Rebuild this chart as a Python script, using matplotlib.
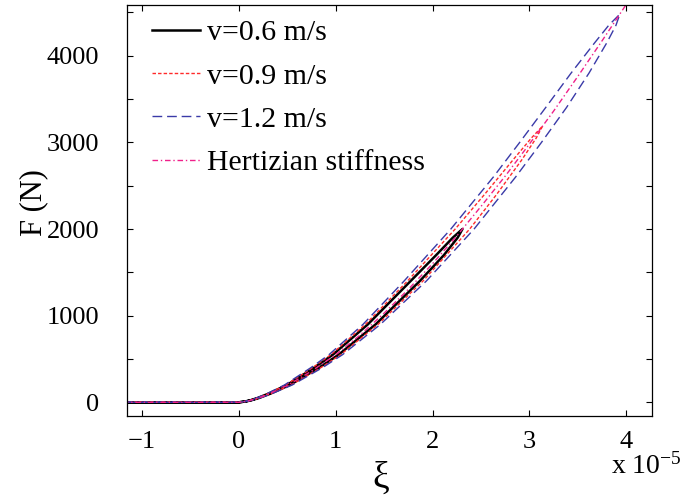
import matplotlib
matplotlib.use("Agg")
import matplotlib.pyplot as plt

# contact force F vs indentation xi (xi in units of 1e-5 m)
# Hertzian stiffness curve
hertz_xi = [-1.2, 0, 0.1, 0.25, 0.5, 0.75, 1.0, 1.25, 1.5, 1.75, 2.0, 2.25, 2.5,
            2.75, 3.0, 3.25, 3.5, 3.75, 4.0, 4.05]
hertz_F = [0, 0, 17, 68, 195, 360, 550, 775, 1030, 1305, 1600, 1920, 2260,
           2610, 2980, 3360, 3760, 4170, 4590, 4680]

# v = 0.6 m/s loop: force levels, loading branch xi, unloading branch xi
v06_F = [0, 10, 25, 50, 100, 200, 400, 550, 900, 1400, 1700, 1900, 2000]
v06_load = [0, .0665, .1225, .1925, .305, .495, .778, .97, 1.332, 1.7735, 2.038, 2.209, 2.309]
v06_unload = [0, .0715, .1315, .2075, .325, .525, .828, 1.03, 1.412, 1.8685, 2.118, 2.259, 2.309]

# v = 0.9 m/s loop
v09_F = [0, 10, 25, 50, 100, 200, 400, 550, 900, 1400, 2000, 2400, 2800, 3050, 3190]
v09_load = [0, .065, .119, .1875, .2975, .4825, .7605, .95, 1.307, 1.741, 2.234,
            2.5375, 2.833, 3.021, 3.138]
v09_unload = [0, .073, .135, .2125, .3325, .5375, .8455, 1.05, 1.437, 1.901, 2.384,
              2.6625, 2.923, 3.071, 3.138]

# v = 1.2 m/s loop
v12_F = [0, 10, 25, 50, 100, 200, 400, 550, 900, 1400, 2000, 2600, 3000, 3400,
         3800, 4150, 4350, 4480]
v12_load = [0, .063, .1156, .1825, .29, .47, .743, .93, 1.282, 1.706, 2.189, 2.628,
            2.9005, 3.1675, 3.4315, 3.6755, 3.8195, 3.935]
v12_unload = [0, .075, .1376, .2175, .34, .55, .863, 1.07, 1.462, 1.936, 2.429, 2.858,
              3.1255, 3.3825, 3.6165, 3.8005, 3.8945, 3.935]

x_ticks = [-1, 0, 1, 2, 3, 4]
y_ticks = [0, 500, 1000, 1500, 2000, 2500, 3000, 3500, 4000, 4500]

plt.rcParams['font.family'] = ['Liberation Serif', 'DejaVu Serif']
plt.rcParams['mathtext.fontset'] = 'stix'


def loop(load, unload, F):
    # approach from negative xi, load up, unload back down
    xs = [-1.2] + list(load) + list(unload[::-1]) + [-1.2]
    ys = [0] + list(F) + list(F[::-1]) + [0]
    return xs, ys


fig = plt.figure(figsize=(6.81, 4.97), dpi=100)
ax = fig.add_axes([127 / 681, 1 - 416 / 497, 525 / 681, 411 / 497])

x, y = loop(v06_load, v06_unload, v06_F)
ax.plot(x, y, color='black', lw=1.8, label='v=0.6 m/s')
x, y = loop(v09_load, v09_unload, v09_F)
ax.plot(x, y, color='#ff2a2a', lw=1.0, dashes=(2.5, 1.5), label='v=0.9 m/s')
x, y = loop(v12_load, v12_unload, v12_F)
ax.plot(x, y, color='#3a3aa8', lw=1.0, dashes=(7, 3.5), label='v=1.2 m/s')
ax.plot(hertz_xi, hertz_F, color='#f0208a', lw=1.0, dashes=(4, 2, 1, 2),
        label='Hertizian stiffness')

ax.set_xlim(-1.157, 4.267)
ax.set_ylim(-158, 4585)
ax.set_xticks(x_ticks)
ax.set_xticklabels([str(t) if t >= 0 else '\u2212' + str(-t) for t in x_ticks])
ax.set_yticks(y_ticks)
ax.set_yticklabels([str(t) if t % 1000 == 0 else '' for t in y_ticks])
ax.tick_params(direction='in', length=4.3, width=0.8, top=True, right=True,
               labelsize=19)
ax.tick_params(axis='y', pad=20)
ax.tick_params(axis='x', pad=11)
for s in ax.spines.values():
    s.set_linewidth(0.9)

ax.set_ylabel('F (N)', fontsize=22)
ax.yaxis.set_label_coords(-0.178, 0.52)
ax.yaxis.label.set_va('center')
ax.set_xlabel('\u03be', fontsize=27)
ax.xaxis.set_label_coords(0.484, -0.152)
ax.xaxis.label.set_va('center')

fig.text(646 / 681, 1 - 466 / 497, r'x 10$^{\mathregular{-5}}$', fontsize=20,
         ha='center', va='center')

ax.legend(loc='upper left', bbox_to_anchor=(0.048, 0.965), frameon=False,
          fontsize=21.5, borderpad=0, borderaxespad=0, handlelength=1.6,
          handletextpad=0.23, labelspacing=0.55)

fig.savefig('out.png', dpi=100)
